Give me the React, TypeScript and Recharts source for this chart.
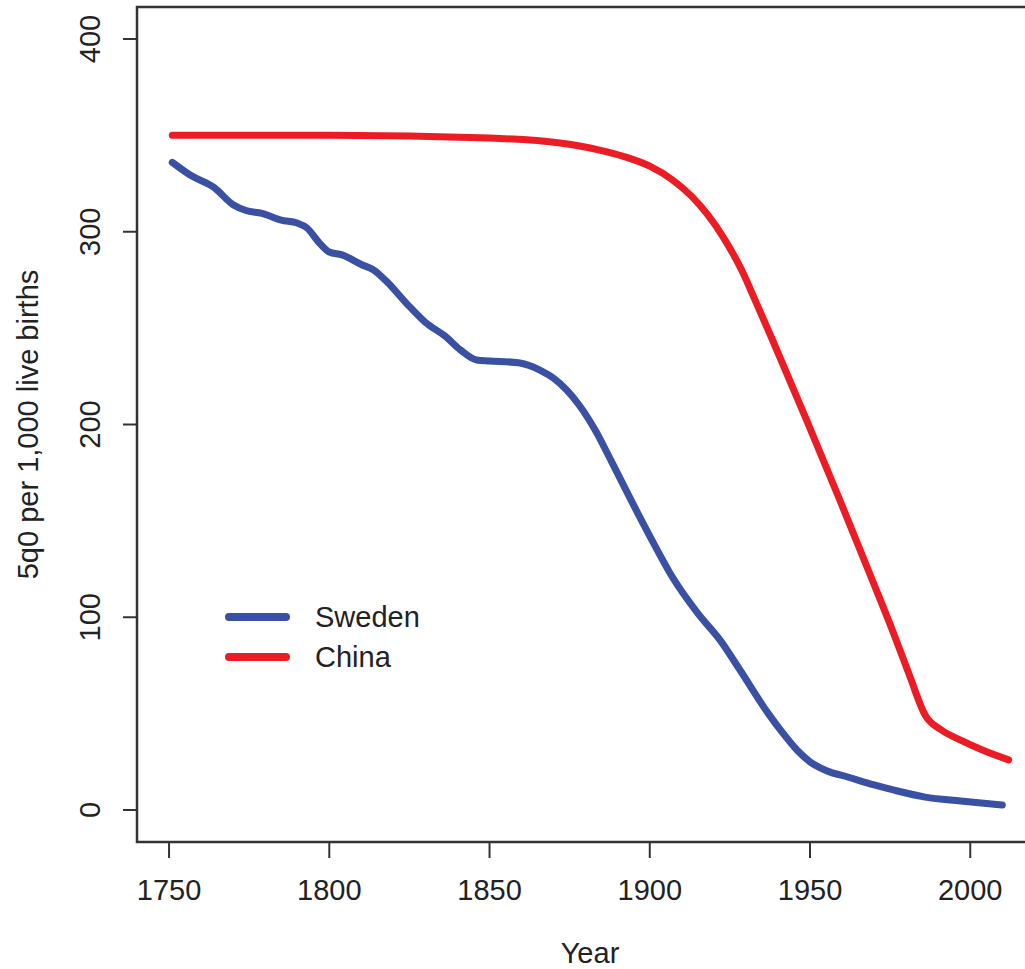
import { LineChart, Line, XAxis, YAxis, ReferenceArea, Legend, Label } from "recharts"

// Under-five mortality (5q0 per 1,000 live births)
const swedenYears = [1751, 1757, 1764, 1770, 1774, 1779, 1785, 1790, 1793, 1797, 1800, 1804, 1810, 1814, 1818, 1824, 1830, 1836, 1841, 1846, 1850, 1859, 1866, 1870, 1878, 1883, 1888, 1895, 1901, 1907, 1915, 1922, 1928, 1937, 1941, 1946, 1950, 1955, 1962, 1970, 1976, 1986, 1997, 2010]
const swedenRates = [336, 329, 323, 314, 311, 309.5, 306, 304.5, 302, 294, 289.5, 288, 283, 280, 274, 263, 253, 246, 238.6, 233.5, 233, 232, 228, 224, 210, 197, 181, 158, 139, 121, 102, 88, 73, 50, 41, 31, 25, 20.5, 17, 13, 10.4, 6.7, 4.7, 2.6]

const chinaYears = [1751, 1800, 1850, 1872, 1884, 1892, 1900, 1907, 1913, 1918, 1923, 1929, 1933, 1938, 1949, 1959, 1970, 1976, 1981, 1986, 1991, 1997, 2004, 2012]
const chinaRates = [350, 350, 348.6, 346, 342.5, 339, 334, 327, 318.5, 309, 297, 279, 264, 245, 202, 162, 117, 92, 70, 49, 41.5, 36.3, 31, 26]

const xTicks = [1750, 1800, 1850, 1900, 1950, 2000]
const yTicks = [0, 100, 200, 300, 400]

const seriesNames = ["Sweden", "China"]
const seriesColors = ["#3A51A3", "#EC1C24"]

const swedenData = swedenYears.map((year, i) => ({ year, rate: swedenRates[i] }))
const chinaData = chinaYears.map((year, i) => ({ year, rate: chinaRates[i] }))

const FONT = "'Liberation Sans', Arial, sans-serif"
const TEXT = "#222"
const AXIS = "#333"

const X_DOMAIN: [number, number] = [1740, 2022.7]
const Y_DOMAIN: [number, number] = [-16.6, 416.6]

function YTick({ x, y, payload }: any) {
  return (
    <text
      x={x}
      y={y}
      transform={`rotate(-90 ${x} ${y})`}
      textAnchor="middle"
      fontFamily={FONT}
      fontSize={29}
      fill={TEXT}
    >
      {payload.value}
    </text>
  )
}

function LegendBox() {
  return (
    <div style={{ fontFamily: FONT, fontSize: 29, color: TEXT }}>
      {seriesNames.map((name, i) => (
        <div key={name} style={{ display: "flex", alignItems: "center", height: 40 }}>
          <svg width={75} height={14}>
            <line x1={9} y1={7} x2={66} y2={7} stroke={seriesColors[i]} strokeWidth={8} strokeLinecap="round" />
          </svg>
          <span style={{ marginLeft: 20, lineHeight: "40px" }}>{name}</span>
        </div>
      ))}
    </div>
  )
}

export default function App() {
  return (
    <div style={{ position: "absolute", left: 0, top: 0, width: 1025, height: 969, overflow: "hidden", background: "#fff" }}>
      <LineChart width={1060} height={969} margin={{ top: 7, right: 17, bottom: 0, left: 0 }}>
        <XAxis
          type="number"
          dataKey="year"
          domain={X_DOMAIN}
          allowDataOverflow
          ticks={xTicks}
          height={127}
          axisLine={false}
          tickSize={16}
          tickMargin={21}
          tickLine={{ stroke: AXIS, strokeWidth: 2 }}
          tick={{ fontFamily: FONT, fontSize: 29, fill: TEXT }}
        >
          <Label
            value="Year"
            position="insideBottom"
            offset={6}
            style={{ fontFamily: FONT, fontSize: 29, fill: TEXT }}
          />
        </XAxis>
        <YAxis
          type="number"
          domain={Y_DOMAIN}
          allowDataOverflow
          ticks={yTicks}
          width={137}
          axisLine={false}
          tickSize={14}
          tickMargin={23}
          tickLine={{ stroke: AXIS, strokeWidth: 2 }}
          tick={<YTick />}
        >
          <Label
            content={(props: any) => {
              const vb = props.viewBox || { x: 0, y: 7, width: 137, height: 835 }
              const cx = vb.x + 38
              const cy = vb.y + vb.height / 2
              return (
                <text
                  x={cx}
                  y={cy}
                  transform={`rotate(-90 ${cx} ${cy})`}
                  textAnchor="middle"
                  fontFamily={FONT}
                  fontSize={29}
                  fill={TEXT}
                >
                  5q0 per 1,000 live births
                </text>
              )
            }}
          />
        </YAxis>
        <ReferenceArea
          x1={X_DOMAIN[0]}
          x2={X_DOMAIN[1]}
          y1={Y_DOMAIN[0]}
          y2={Y_DOMAIN[1]}
          fill="none"
          fillOpacity={0}
          stroke={AXIS}
          strokeWidth={2.5}
        />
        <Line
          data={swedenData}
          dataKey="rate"
          name="Sweden"
          type="monotone"
          stroke={seriesColors[0]}
          strokeWidth={7}
          strokeLinecap="round"
          dot={false}
          activeDot={false}
          isAnimationActive={false}
        />
        <Line
          data={chinaData}
          dataKey="rate"
          name="China"
          type="monotone"
          stroke={seriesColors[1]}
          strokeWidth={7}
          strokeLinecap="round"
          dot={false}
          activeDot={false}
          isAnimationActive={false}
        />
        <Legend
          layout="horizontal"
          verticalAlign="middle"
          align="center"
          wrapperStyle={{ left: 220, top: 597, width: 260 }}
          content={() => <LegendBox />}
        />
      </LineChart>
    </div>
  )
}
